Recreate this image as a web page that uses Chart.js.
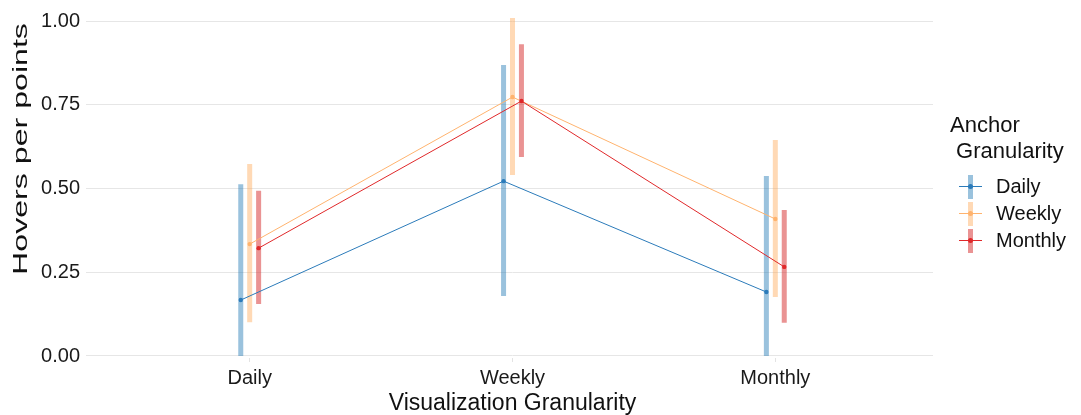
<!DOCTYPE html>
<html>
<head>
<meta charset="utf-8">
<script src="https://cdn.jsdelivr.net/npm/chart.js@4"></script>
<style>
  body { margin: 0; background: #fff; font-family: "Liberation Sans", Arial, sans-serif; }
  #wrap { position: relative; width: 1081px; height: 415px; }
  #legend { position: absolute; left: 950px; top: 112px; color: #111; }
  #legend .ttl { font-size: 22px; line-height: 26px; white-space: pre; margin-bottom: 9px; }
  #legend .item { position: relative; height: 27px; font-size: 20px; line-height: 27px; padding-left: 46px; }
  #legend .vb { position: absolute; left: 18px; top: 2px; width: 5px; height: 24px; }
  #legend .hb { position: absolute; left: 9px; top: 13px; width: 23px; height: 1px; }
  #legend .pt { position: absolute; left: 18px; top: 11px; width: 5px; height: 5px; border-radius: 50%; }
</style>
</head>
<body>
<div id="wrap">
  <canvas id="myChart" width="1081" height="415"></canvas>
  <div id="legend"></div>
</div>
<script>
// categories on the x axis
const categories = ['Daily', 'Weekly', 'Monthly'];
const seriesNames = ['Daily', 'Weekly', 'Monthly'];
// means per anchor granularity
const dailyMean = [0.167, 0.522, 0.191];
const weeklyMean = [0.334, 0.773, 0.409];
const monthlyMean = [0.322, 0.761, 0.266];
// error bar limits
const dailyLow = [0.0, 0.179, 0.0];
const dailyHigh = [0.513, 0.869, 0.537];
const weeklyLow = [0.101, 0.540, 0.176];
const weeklyHigh = [0.573, 1.009, 0.645];
const monthlyLow = [0.155, 0.594, 0.099];
const monthlyHigh = [0.493, 0.931, 0.436];
const yTicks = [0, 0.25, 0.5, 0.75, 1.0];

const lineColors = ['#2b7bba', '#ffb36e', '#e0282a'];
const barColors = ['rgba(31,119,180,0.45)', 'rgba(255,160,70,0.4)', 'rgba(214,39,40,0.5)'];
const dodge = [-0.034, 0, 0.034];

const means = [dailyMean, weeklyMean, monthlyMean];
const lows = [dailyLow, weeklyLow, monthlyLow];
const highs = [dailyHigh, weeklyHigh, monthlyHigh];

let datasets = [];
for (let s = 0; s < 3; s++) {
    let pts = [];
    let bars = [];
    for (let i = 0; i < categories.length; i++) {
        let x = i + 1 + dodge[s];
        pts.push({ x: x, y: means[s][i] });
        bars.push({ x: x, y: lows[s][i] });
        bars.push({ x: x, y: highs[s][i] });
        bars.push({ x: x, y: null });
    }
    datasets.push({
        label: seriesNames[s] + ' error',
        data: bars,
        borderColor: barColors[s],
        borderWidth: 5,
        borderCapStyle: 'butt',
        pointRadius: 0,
        spanGaps: false,
        clip: 10,
        order: 10 - s
    });
    datasets.push({
        label: seriesNames[s],
        data: pts,
        borderColor: lineColors[s],
        backgroundColor: lineColors[s],
        borderWidth: 1,
        pointRadius: 2.2,
        pointBorderWidth: 0,
        order: 3 - s
    });
}

// rotated y axis title, drawn a bit stretched along its length like the source
const yTitle = {
    id: 'yTitle',
    afterDraw(chart) {
        const c = chart.ctx;
        c.save();
        c.translate(27, 149);
        c.rotate(-Math.PI / 2);
        c.scale(1.53, 1);
        c.font = '21px "Liberation Sans"';
        c.fillStyle = '#111';
        c.textAlign = 'center';
        c.textBaseline = 'alphabetic';
        c.fillText('Hovers per points', 0, 0);
        c.restore();
    }
};

const ctx = document.getElementById('myChart');
var myChart = new Chart(ctx, {
    type: 'line',
    data: { datasets: datasets },
    plugins: [yTitle],
    options: {
        responsive: false,
        animation: false,
        layout: { padding: { right: 148, top: 18, bottom: 0, left: 0 } },
        plugins: { legend: { display: false }, tooltip: { enabled: false } },
        scales: {
            x: {
                type: 'linear',
                min: 0.4,
                max: 3.6,
                afterBuildTicks: (scale) => { scale.ticks = categories.map((c, i) => ({ value: i + 1 })); },
                afterFit: (scale) => { scale.height = 57; },
                ticks: {
                    callback: (v) => categories[v - 1],
                    font: { family: 'Liberation Sans', size: 20 },
                    color: '#1a1a1a',
                    padding: 4
                },
                grid: { display: true, drawOnChartArea: false, tickLength: 4, tickColor: '#e3e3e3' },
                border: { display: false },
                title: {
                    display: true,
                    text: 'Visualization Granularity',
                    font: { family: 'Liberation Sans', size: 23 },
                    color: '#111',
                    padding: { top: 0, bottom: -2 }
                }
            },
            y: {
                type: 'linear',
                min: -0.006,
                max: 1.009,
                afterBuildTicks: (scale) => { scale.ticks = yTicks.map(v => ({ value: v })); },
                afterFit: (scale) => { scale.width = 92; },
                ticks: {
                    callback: (v) => v.toFixed(2),
                    font: { family: 'Liberation Sans', size: 20 },
                    color: '#1a1a1a',
                    padding: 6
                },
                grid: { color: '#e6e6e6', lineWidth: 1, tickLength: 6 },
                border: { display: false },
                title: { display: false }
            }
        }
    }
});

// legend
let lg = '<div class="ttl">Anchor\n Granularity</div>';
for (let s = 0; s < 3; s++) {
    lg += '<div class="item"><span class="vb" style="background:' + barColors[s] + '"></span>' +
          '<span class="hb" style="background:' + lineColors[s] + '"></span>' +
          '<span class="pt" style="background:' + lineColors[s] + '"></span>' + seriesNames[s] + '</div>';
}
document.getElementById('legend').innerHTML = lg;
</script>
</body>
</html>
